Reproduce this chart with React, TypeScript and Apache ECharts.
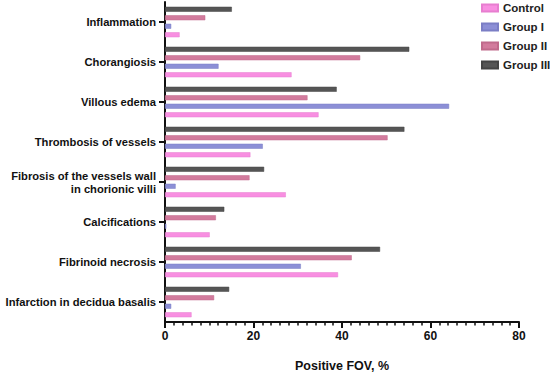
import React, { useEffect, useRef } from "react";
import * as echarts from "echarts";

const categories = [
  "Inflammation",
  "Chorangiosis",
  "Villous edema",
  "Thrombosis of vessels",
  "Fibrosis of the vessels wall\nin chorionic villi",
  "Calcifications",
  "Fibrinoid necrosis",
  "Infarction in decidua basalis",
];

const control = [3.3, 28.6, 34.7, 19.3, 27.3, 10.1, 39.1, 6.0];
const groupI = [1.4, 12.1, 64.2, 22.1, 2.4, 0.3, 30.7, 1.4];
const groupII = [9.1, 44.1, 32.2, 50.3, 19.1, 11.5, 42.2, 11.1];
const groupIII = [15.1, 55.2, 38.8, 54.1, 22.4, 13.4, 48.6, 14.5];

const legendOrder = ["Control", "Group I", "Group II", "Group III"];

const FONT = "'Liberation Sans', Arial, sans-serif";

export default function App() {
  const ref = useRef<HTMLDivElement>(null);
  useEffect(() => {
    document.body.style.margin = "0";
    document.body.style.overflow = "hidden";
    if (!ref.current) return;
    const chart = echarts.init(ref.current, undefined, { renderer: "svg" });
    const mk = (name: string, data: number[], color: string, border: string) => ({
      name,
      type: "bar",
      data,
      barWidth: 5,
      barGap: "70%",
      itemStyle: { color, borderColor: border, borderWidth: 0.5 },
    });
    chart.setOption({
      animation: false,
      textStyle: { fontFamily: FONT },
      grid: { left: 165, right: 31, top: 2, bottom: 52, containLabel: false, outerBoundsMode: "none" },
      legend: {
        orient: "vertical",
        left: 476,
        top: -3,
        padding: 5,
        itemWidth: 16,
        itemHeight: 7,
        itemGap: 7,
        icon: "rect",
        data: legendOrder,
        textStyle: { fontFamily: FONT, fontWeight: "bold", fontSize: 11.5, color: "#222" },
      },
      xAxis: {
        type: "value",
        min: 0,
        max: 80,
        interval: 20,
        name: "Positive FOV, %",
        nameLocation: "middle",
        nameGap: 37,
        nameTextStyle: { fontFamily: FONT, fontWeight: "bold", fontSize: 12.5, color: "#111" },
        axisLine: { show: true, lineStyle: { color: "#111", width: 2 } },
        axisTick: { show: true, length: 6, lineStyle: { color: "#111", width: 2 } },
        minorTick: { show: true, splitNumber: 10, length: 3.5, lineStyle: { color: "#111", width: 1.5 } },
        axisLabel: { fontFamily: FONT, fontWeight: "bold", fontSize: 12, color: "#111", margin: 8 },
        splitLine: { show: false },
      },
      yAxis: {
        type: "category",
        inverse: true,
        data: categories,
        axisLine: { show: true, lineStyle: { color: "#111", width: 2 } },
        axisTick: { show: true, alignWithLabel: true, length: 6, lineStyle: { color: "#111", width: 2 } },
        axisLabel: {
          fontFamily: FONT,
          fontWeight: "bold",
          fontSize: 11.2,
          color: "#111",
          margin: 9,
          lineHeight: 13,
          align: "right",
        },
      },
      series: [
        mk("Group III", groupIII, "#555555", "#444444"),
        mk("Group II", groupII, "#D27B9D", "#c06a8c"),
        mk("Group I", groupI, "#8C8FD6", "#7b7ec5"),
        mk("Control", control, "#F88FE1", "#e77ed0"),
      ],
    });
    return () => chart.dispose();
  }, []);
  return <div ref={ref} style={{ width: 550, height: 374 }} />;
}
